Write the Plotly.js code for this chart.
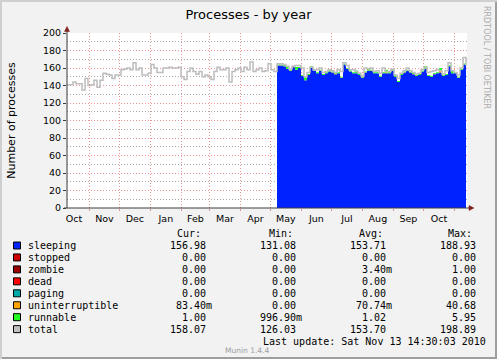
<!DOCTYPE html>
<html><head><meta charset="utf-8">
<script src="https://cdn.plot.ly/plotly-3.0.1.min.js"></script>
<style>html,body{margin:0;padding:0;background:#F2F2F2;}#chart{width:497px;height:359px;}</style>
</head><body><div id="chart"></div>
<script>
// ---- data (sampled every 3 days, starting at the left edge of the graph) ----
const startDate = '2009-10-09T14:30:00Z';
const endDate = '2010-11-13T14:30:00Z';
const stepDays = 3;
const totalValues = [
 141,141,144,142,142,135,148,140,141,146,138,146,154,153,152,148,152,152,158,159,
 160,158,166,158,160,152,152,154,164,160,155,155,160,160,161,
 160,160,161,150,147,156,160,156,153,156,150,152,150,147,156,161,158,158,160,144,
 156,158,160,156,161,158,167,156,158,160,156,157,165,158,156,
 165,165,164,162,159,162,163,163,160,150,155,161,158,158,160,155,156,158,157,155,
 158,156,166,163,158,158,156,154,151,160,159,160,156,157,154,160,156,156,159,152,
 148,154,157,160,157,155,153,154,158,161,155,156,157,158,157,153,157,166,157,155,
 152,160,172,163
];
const stackStartIndex = 70;
const sleepingValues = [
 163,163,162,159,157,161,158,160,151,146,152,160,157,154,157,152,154,156,155,153,
 154,149,164,159,156,154,154,152,149,155,157,157,154,154,150,154,154,154,157,150,
 144,152,155,157,155,153,151,152,156,159,151,150,153,154,155,151,152,162,154,154,
 149,158,164,160
];
const uninterruptibleValues = [
 0.1,0.1,0.1,0.1,0.1,0.1,0.1,0.1,0.1,0.1,0.1,0.1,0.1,0.1,0.1,0.1,0.1,0.1,0.1,0.1,
 0.1,0.1,0.1,0.1,0.1,0.1,0.1,0.1,0.1,0.1,0.1,0.1,0.1,0.1,0.1,0.1,1,0.1,0.1,0.1,
 0.1,0.1,0.1,0.1,0.1,0.1,0.1,0.1,0.1,0.1,0.1,0.1,0.1,0.1,2,0.1,0.1,0.1,0.1,0.1,
 0.1,0.1,0.1,0.1
];
const runnableValues = [
 1,1,1,3,1,1,3,1,1,3,
 1,2,1,1,1,1,1,1,1,1,
 1,1,1,1,1,1,3,1,1,1,
 2,1,1,1,1,1,3,1,1,2,
 1,1,1,1,1,2,1,1,1,3,
 1,1,1,1,3,1,1,1,3,1,
 1,1,1,3
];
const legendNames = ['sleeping','stopped','zombie','dead','paging','uninterruptible','runnable','total'];
const curValues = ['156.98','0.00','0.00','0.00','0.00','83.40m','1.00','158.07'];
const minValues = ['131.08','0.00','0.00','0.00','0.00','0.00','996.90m','126.03'];
const avgValues = ['153.71','0.00','3.40m','0.00','0.00','70.74m','1.02','153.70'];
const maxValues = ['188.93','0.00','1.00','0.00','0.00','40.68','5.95','198.89'];
const columnHeaders = ['Cur:','Min:','Avg:','Max:'];
const lastUpdate = 'Last update: Sat Nov 13 14:30:03 2010';

// ---- styles ----
const seriesColors = ['#0022FF','#CC0000','#990000','#FF0000','#00AAAA','#FFA500','#22FF22','#C0C0C0'];
const W = 497, H = 359, L = 67, T = 33, PW = 400, PH = 175;
const px2x = p => (p - L) / PW;
const py2y = p => (T + PH - p) / PH;

function dateAt(i) {
  const d = new Date(Date.parse(startDate) + i * stepDays * 86400000);
  return d.toISOString().slice(0, 19).replace('T', ' ');
}
const xTotal = totalValues.map((v, i) => dateAt(i));
const xStack = sleepingValues.map((v, i) => dateAt(i + stackStartIndex));

const traces = [
  {x: xStack, y: sleepingValues, type: 'scatter', mode: 'lines', stackgroup: 's', line: {width: 0, shape: 'hv'}, fillcolor: seriesColors[0], name: 'sleeping'},
  {x: xStack, y: uninterruptibleValues, type: 'scatter', mode: 'lines', stackgroup: 's', line: {width: 0, shape: 'hv'}, fillcolor: seriesColors[5], name: 'uninterruptible'},
  {x: xStack, y: runnableValues, type: 'scatter', mode: 'lines', stackgroup: 's', line: {width: 0, shape: 'hv'}, fillcolor: seriesColors[6], name: 'runnable'},
  {x: xTotal, y: totalValues, type: 'scatter', mode: 'lines', line: {color: '#BDBDBD', width: 1.5, shape: 'hv'}, name: 'total'}
];

const mono = {family: 'DejaVu Sans Mono', size: 10, color: '#000'};
const charW = 6.02;
const annotations = [];
const shapes = [];

// borders
shapes.push({type: 'rect', xref: 'paper', yref: 'paper', x0: px2x(0), x1: px2x(W), y0: py2y(0), y1: py2y(2), fillcolor: '#CFCFCF', line: {width: 0}, layer: 'below'});
shapes.push({type: 'rect', xref: 'paper', yref: 'paper', x0: px2x(0), x1: px2x(2), y0: py2y(0), y1: py2y(H), fillcolor: '#CFCFCF', line: {width: 0}, layer: 'below'});
shapes.push({type: 'rect', xref: 'paper', yref: 'paper', x0: px2x(2), x1: px2x(W), y0: py2y(H - 2), y1: py2y(H), fillcolor: '#9E9E9E', line: {width: 0}, layer: 'below'});
shapes.push({type: 'rect', xref: 'paper', yref: 'paper', x0: px2x(W - 2), x1: px2x(W), y0: py2y(2), y1: py2y(H), fillcolor: '#9E9E9E', line: {width: 0}, layer: 'below'});
// axes lines and arrows
shapes.push({type: 'line', xref: 'paper', yref: 'paper', x0: 0, x1: 0, y0: 0, y1: py2y(30), line: {color: '#3a3a3a', width: 1}});
shapes.push({type: 'line', xref: 'paper', yref: 'paper', x0: px2x(64), x1: px2x(471), y0: 0, y1: 0, line: {color: '#3a3a3a', width: 1}});
shapes.push({type: 'path', xref: 'paper', yref: 'paper', path: `M ${px2x(64.5)} ${py2y(31.5)} L ${px2x(67)} ${py2y(26.5)} L ${px2x(69.5)} ${py2y(31.5)} Z`, fillcolor: '#801F1F', line: {color: '#801F1F', width: 0.5}});
shapes.push({type: 'path', xref: 'paper', yref: 'paper', path: `M ${px2x(469)} ${py2y(205.5)} L ${px2x(474)} ${py2y(208)} L ${px2x(469)} ${py2y(210.5)} Z`, fillcolor: '#801F1F', line: {color: '#801F1F', width: 0.5}});

// vertical credit
annotations.push({text: 'RRDTOOL / TOBI OETIKER', xref: 'paper', yref: 'paper', x: px2x(487), y: py2y(57), textangle: 90, showarrow: false, xanchor: 'center', yanchor: 'middle', font: {family: 'DejaVu Sans', size: 8, color: '#AAAAAA'}});

// legend table
const headerX = [176, 268, 358, 447];
columnHeaders.forEach((h, j) => annotations.push({text: h, xref: 'paper', yref: 'paper', x: px2x(headerX[j] - 1), y: py2y(233), xanchor: 'left', yanchor: 'middle', showarrow: false, font: mono}));
const colEdges = [207, 297, 387, 477];
const cols = [curValues, minValues, avgValues, maxValues];
legendNames.forEach((name, k) => {
  const yc = 245.5 + 11.95 * k;
  shapes.push({type: 'rect', xref: 'paper', yref: 'paper', x0: px2x(13.5), x1: px2x(20.5), y0: py2y(yc - 3.5), y1: py2y(yc + 3.5), fillcolor: seriesColors[k], line: {color: '#000', width: 1}});
  annotations.push({text: name, xref: 'paper', yref: 'paper', x: px2x(25.5), y: py2y(yc), xanchor: 'left', yanchor: 'middle', showarrow: false, font: mono});
  cols.forEach((col, j) => {
    const s = col[k];
    const hasSuffix = /[a-zA-Z]$/.test(s);
    annotations.push({text: s, xref: 'paper', yref: 'paper', x: px2x(colEdges[j] + 1 + (hasSuffix ? charW : 0)), y: py2y(yc), xanchor: 'right', yanchor: 'middle', showarrow: false, font: mono});
  });
});
annotations.push({text: lastUpdate, xref: 'paper', yref: 'paper', x: px2x(260.5), y: py2y(341.5), xanchor: 'left', yanchor: 'middle', showarrow: false, font: mono});
annotations.push({text: 'Munin 1.4.4', xref: 'paper', yref: 'paper', x: px2x(223), y: py2y(350), xanchor: 'left', yanchor: 'middle', showarrow: false, font: {family: 'DejaVu Sans', size: 7.5, color: '#A0A0A0'}});

const gridMajor = 'rgba(222,79,79,0.6)';
const gridMinor = 'rgba(143,143,143,0.75)';
const layout = {
  width: W, height: H,
  margin: {l: L, r: W - L - PW, t: T, b: H - T - PH, pad: 0},
  paper_bgcolor: '#F2F2F2', plot_bgcolor: '#FFFFFF',
  showlegend: false,
  title: {text: 'Processes - by year', font: {family: 'DejaVu Sans', size: 13, color: '#000'}, x: 0.5, xref: 'container', xanchor: 'center', y: 1 - 14 / H, yref: 'container', yanchor: 'middle'},
  xaxis: {type: 'date', range: [startDate.replace('T', ' ').replace('Z', ''), endDate.replace('T', ' ').replace('Z', '')],
    tick0: '2009-11-01', dtick: 'M1', ticklabelmode: 'period', tickformat: '%b',
    showgrid: true, gridcolor: gridMajor, griddash: '1px,2px', gridwidth: 1,
    ticks: 'outside', ticklen: 2, tickcolor: gridMajor, showline: false, zeroline: false,
    tickfont: {family: 'DejaVu Sans', size: 9.5, color: '#000'}, fixedrange: true},
  yaxis: {range: [0, 200], tick0: 0, dtick: 20, showgrid: true, gridcolor: gridMajor, griddash: '1px,2px', gridwidth: 1,
    minor: {dtick: 10, showgrid: true, gridcolor: gridMinor, griddash: '1px,2px', ticks: ''},
    ticks: 'outside', ticklen: 3, tickcolor: '#3a3a3a', showline: false, zeroline: false,
    tickfont: {family: 'DejaVu Sans', size: 9.5, color: '#000'},
    title: {text: 'Number of processes', font: {family: 'DejaVu Sans', size: 11, color: '#000'}, standoff: 25},
    automargin: false, fixedrange: true},
  shapes: shapes,
  annotations: annotations
};
Plotly.newPlot('chart', traces, layout, {staticPlot: true, displayModeBar: false});
</script></body></html>
